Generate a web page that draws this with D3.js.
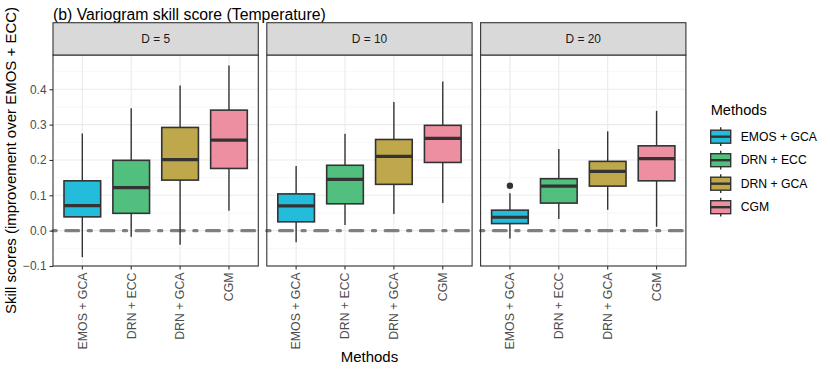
<!DOCTYPE html>
<html>
<head>
<meta charset="utf-8">
<script src="https://cdn.jsdelivr.net/npm/d3@7"></script>
<style>
  body { margin: 0; background: #fff; }
  text { font-family: "Liberation Sans", Arial, sans-serif; }
</style>
</head>
<body>
<div id="chart"></div>
<script>
const dims = ["D = 5", "D = 10", "D = 20"];
const methods = ["EMOS + GCA", "DRN + ECC", "DRN + GCA", "CGM"];
const colors = ["#23BCDA", "#51C07F", "#BFA84B", "#EE8EA1"];
const yTicks = [-0.1, 0, 0.1, 0.2, 0.3, 0.4];
const yMinor = [-0.05, 0.05, 0.15, 0.25, 0.35, 0.45];

// box stats, one row per panel, one entry per method
const lower  = [[-0.075, -0.017, -0.040, 0.056], [-0.033, 0.016, 0.047, 0.078], [-0.022, 0.033, 0.059, 0.011]];
const q1     = [[0.039, 0.049, 0.143, 0.176], [0.025, 0.076, 0.131, 0.193], [0.020, 0.078, 0.126, 0.141]];
const median = [[0.071, 0.122, 0.201, 0.256], [0.070, 0.145, 0.210, 0.261], [0.038, 0.126, 0.168, 0.204]];
const q3     = [[0.141, 0.199, 0.292, 0.341], [0.104, 0.185, 0.258, 0.298], [0.058, 0.147, 0.196, 0.240]];
const upper  = [[0.275, 0.346, 0.411, 0.467], [0.183, 0.274, 0.364, 0.422], [0.106, 0.231, 0.281, 0.339]];
// outliers: [panel, method, value]
const outliers = [[2, 0, 0.127]];

const width = 830, height = 374;
const panelLeft = 53, panelW = 205.3, panelGap = 8.5;
const stripTop = 22.7, panelTop = 55, panelBottom = 266;

const svg = d3.select("#chart").append("svg")
  .attr("width", width).attr("height", height);

const y = d3.scaleLinear().domain([-0.1, 0.497]).range([panelBottom, panelTop]);

// title
svg.append("text")
  .attr("x", panelLeft).attr("y", 20)
  .style("font-size", "15.8px").attr("fill", "#000")
  .text("(b) Variogram skill score (Temperature)");

dims.forEach((dim, p) => {
  const x0 = panelLeft + p * (panelW + panelGap);
  const x = d3.scaleBand().domain(methods).range([x0, x0 + panelW])
    .paddingInner(0.25).paddingOuter(0.225);
  const g = svg.append("g");

  // panel background + grid
  g.append("rect").attr("x", x0).attr("y", panelTop)
    .attr("width", panelW).attr("height", panelBottom - panelTop).attr("fill", "#fff");
  g.selectAll(".minor").data(yMinor).join("line")
    .attr("x1", x0).attr("x2", x0 + panelW)
    .attr("y1", d => y(d)).attr("y2", d => y(d))
    .attr("stroke", "#F2F2F2").attr("stroke-width", 0.6);
  g.selectAll(".major").data(yTicks).join("line")
    .attr("x1", x0).attr("x2", x0 + panelW)
    .attr("y1", d => y(d)).attr("y2", d => y(d))
    .attr("stroke", "#EBEBEB").attr("stroke-width", 1.1);
  g.selectAll(".vgrid").data(methods).join("line")
    .attr("x1", d => x(d) + x.bandwidth() / 2).attr("x2", d => x(d) + x.bandwidth() / 2)
    .attr("y1", panelTop).attr("y2", panelBottom)
    .attr("stroke", "#EBEBEB").attr("stroke-width", 1.1);

  // zero reference line (dot-dash)
  g.append("line")
    .attr("x1", x0).attr("x2", x0 + panelW)
    .attr("y1", y(0)).attr("y2", y(0))
    .attr("stroke", "#7F7F7F").attr("stroke-width", 3.2)
    .attr("stroke-dasharray", "3.2,9.6,12.8,9.6")
    .attr("stroke-linecap", "round");

  // boxes
  methods.forEach((m, i) => {
    const cx = x(m) + x.bandwidth() / 2;
    const bw = x.bandwidth();
    g.append("line").attr("x1", cx).attr("x2", cx)
      .attr("y1", y(upper[p][i])).attr("y2", y(q3[p][i]))
      .attr("stroke", "#333").attr("stroke-width", 1.4);
    g.append("line").attr("x1", cx).attr("x2", cx)
      .attr("y1", y(q1[p][i])).attr("y2", y(lower[p][i]))
      .attr("stroke", "#333").attr("stroke-width", 1.4);
    g.append("rect")
      .attr("x", x(m)).attr("width", bw)
      .attr("y", y(q3[p][i])).attr("height", y(q1[p][i]) - y(q3[p][i]))
      .attr("fill", colors[i]).attr("stroke", "#333").attr("stroke-width", 1.6);
    g.append("line").attr("x1", x(m)).attr("x2", x(m) + bw)
      .attr("y1", y(median[p][i])).attr("y2", y(median[p][i]))
      .attr("stroke", "#333").attr("stroke-width", 3.2);
  });
  outliers.filter(o => o[0] === p).forEach(o => {
    g.append("circle")
      .attr("cx", x(methods[o[1]]) + x.bandwidth() / 2).attr("cy", y(o[2]))
      .attr("r", 3.2).attr("fill", "#333");
  });

  // panel border
  g.append("rect").attr("x", x0).attr("y", panelTop)
    .attr("width", panelW).attr("height", panelBottom - panelTop)
    .attr("fill", "none").attr("stroke", "#333").attr("stroke-width", 1.1);

  // strip
  g.append("rect").attr("x", x0).attr("y", stripTop)
    .attr("width", panelW).attr("height", panelTop - stripTop)
    .attr("fill", "#D9D9D9").attr("stroke", "#333").attr("stroke-width", 1.1);
  g.append("text")
    .attr("x", x0 + panelW / 2).attr("y", (stripTop + panelTop) / 2 + 4)
    .attr("text-anchor", "middle").style("font-size", "11.9px").attr("fill", "#1A1A1A")
    .text(dim);

  // x axis
  const xAxis = g.append("g")
    .attr("transform", `translate(0,${panelBottom})`)
    .call(d3.axisBottom(x).tickSize(3.5).tickPadding(3));
  xAxis.select(".domain").remove();
  xAxis.selectAll(".tick line").attr("stroke", "#333").attr("stroke-width", 1.1);
  xAxis.selectAll(".tick text")
    .attr("transform", "rotate(-90)")
    .attr("x", -6.5).attr("y", 0).attr("dy", "0.35em")
    .attr("text-anchor", "end")
    .style("font-size", "12.3px").style("font-family", "Liberation Sans, Arial, sans-serif")
    .attr("fill", "#4D4D4D");

  // y axis only on first panel
  if (p === 0) {
    const yAxis = g.append("g")
      .attr("transform", `translate(${x0},0)`)
      .call(d3.axisLeft(y).tickValues(yTicks).tickFormat(d3.format(".1f")).tickSize(3.5).tickPadding(3));
    yAxis.select(".domain").remove();
    yAxis.selectAll(".tick line").attr("stroke", "#333").attr("stroke-width", 1.1);
    yAxis.selectAll(".tick text")
      .style("font-size", "11.9px").style("font-family", "Liberation Sans, Arial, sans-serif")
      .attr("fill", "#4D4D4D");
  }
});

// axis titles
svg.append("text")
  .attr("x", panelLeft + (3 * panelW + 2 * panelGap) / 2).attr("y", 362)
  .attr("text-anchor", "middle").style("font-size", "15px").text("Methods");
svg.append("text")
  .attr("transform", `translate(15.5,${(panelTop + panelBottom) / 2}) rotate(-90)`)
  .attr("text-anchor", "middle").style("font-size", "15px")
  .text("Skill scores (improvement over EMOS + ECC)");

// legend
const legend = svg.append("g").attr("transform", "translate(710.7,0)");
legend.append("text").attr("x", 0).attr("y", 115)
  .style("font-size", "14.6px").text("Methods");
const keyH = 23.5, keyW = 20;
methods.forEach((m, i) => {
  const cy = 136.7 + i * keyH;
  const k = legend.append("g");
  k.append("line").attr("x1", keyW / 2).attr("x2", keyW / 2)
    .attr("y1", cy - keyH * 0.4).attr("y2", cy + keyH * 0.4)
    .attr("stroke", "#333").attr("stroke-width", 1.4);
  k.append("rect").attr("x", 0).attr("y", cy - 6.5)
    .attr("width", keyW).attr("height", 13)
    .attr("fill", colors[i]).attr("stroke", "#333").attr("stroke-width", 1.4);
  k.append("line").attr("x1", 0).attr("x2", keyW)
    .attr("y1", cy).attr("y2", cy)
    .attr("stroke", "#333").attr("stroke-width", 2.4);
  k.append("text").attr("x", 30).attr("y", cy + 4.2)
    .style("font-size", "12.2px").attr("fill", "#000").text(m);
});
</script>
</body>
</html>
